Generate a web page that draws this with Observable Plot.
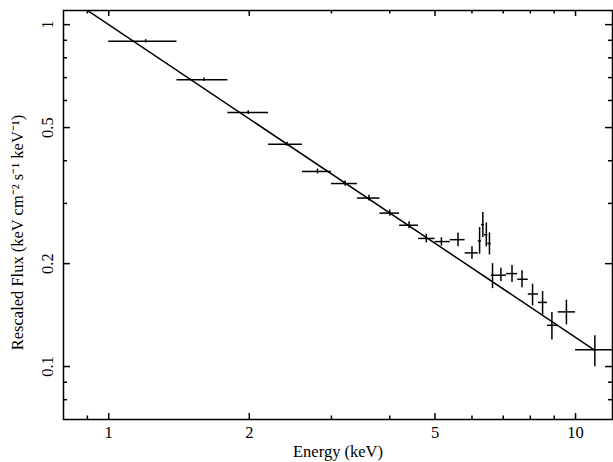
<!DOCTYPE html>
<html>
<head>
<meta charset="utf-8">
<script src="https://cdn.jsdelivr.net/npm/d3@7"></script>
<script src="https://cdn.jsdelivr.net/npm/@observablehq/plot@0.6"></script>
<style>
  html, body { margin: 0; padding: 0; background: #fff; }
  #chart svg { display: block; }
</style>
</head>
<body>
<div id="chart"></div>
<script>
// Energy bins (keV)
const eLo  = [1.00,1.40,1.80,2.20,2.60,3.00,3.41,3.81,4.20,4.61,5.00,5.39,5.80,6.19,6.29,6.38,6.49,6.60,6.77,7.11,7.52,7.92,8.33,8.71,9.18,10.0];
const eMid = [1.20,1.60,1.99,2.41,2.80,3.21,3.61,4.00,4.40,4.79,5.16,5.60,6.00,6.23,6.33,6.44,6.54,6.64,6.92,7.31,7.68,8.09,8.50,8.90,9.56,11.0];
const eHi  = [1.40,1.80,2.20,2.60,3.00,3.41,3.81,4.20,4.61,5.00,5.39,5.80,6.19,6.29,6.38,6.49,6.60,6.77,7.11,7.52,7.92,8.33,8.71,9.18,10.0,12.0];
// Rescaled flux and its error range
const flux = [0.894,0.690,0.553,0.447,0.372,0.343,0.311,0.281,0.259,0.237,0.232,0.235,0.215,0.233,0.260,0.243,0.229,0.185,0.185,0.187,0.180,0.163,0.154,0.132,0.1445,0.112];
const fLo  = [0.884,0.682,0.546,0.441,0.366,0.337,0.305,0.275,0.253,0.230,0.225,0.224,0.206,0.213,0.2385,0.224,0.212,0.169,0.1774,0.1762,0.170,0.1505,0.1416,0.1195,0.1324,0.0998];
const fHi  = [0.904,0.698,0.560,0.453,0.378,0.349,0.317,0.287,0.265,0.244,0.238,0.246,0.224,0.255,0.282,0.263,0.246,0.200,0.1937,0.1976,0.1905,0.1741,0.1657,0.1438,0.1564,0.123];
// Power-law model line
const modelE = [0.85, 11.0];
const modelF = [1.160, 0.1115];
// Ticks
const xMajor = [1, 2, 5, 10];
const xMinor = [0.9, 3, 4, 6, 7, 8, 9];
const yMajor = [0.1, 0.2, 0.5, 1];
const yMinor = [0.08, 0.09, 0.3, 0.4, 0.6, 0.7, 0.8, 0.9];
const xLabel = "Energy (keV)";
const yLabel = "Rescaled Flux (keV cm\u207B\u00B2 s\u207B\u00B9 keV\u207B\u00B9)";

const data = eMid.map((e, i) => ({e, lo: eLo[i], hi: eHi[i], f: flux[i], flo: fLo[i], fhi: fHi[i]}));
const model = modelE.map((e, i) => ({e, f: modelF[i]}));

const W = 613, H = 462;
const mL = 63, mR = 1, mT = 10, mB = 43;
const fw = W - mL - mR, fh = H - mT - mB;
const font = "Liberation Serif, Times New Roman, serif";
const fs = 16.5;
const sw = 1.5;

const plot = Plot.plot({
  width: W, height: H,
  marginLeft: mL, marginRight: mR, marginTop: mT, marginBottom: mB,
  style: {background: "#fff", fontFamily: font, fontSize: fs + "px", color: "#000"},
  x: {type: "log", domain: [0.8, 12], axis: null},
  y: {type: "log", domain: [0.07, 1.1], axis: null},
  marks: [
    // data error bars
    Plot.ruleY(data, {y: "f", x1: "lo", x2: "hi", stroke: "#000", strokeWidth: sw}),
    Plot.ruleX(data, {x: "e", y1: "flo", y2: "fhi", stroke: "#000", strokeWidth: sw}),
    // model
    Plot.line(model, {x: "e", y: "f", stroke: "#000", strokeWidth: sw, clip: true}),
    // ticks bottom/top
    Plot.ruleX(xMajor, {x: d => d, insetTop: fh - 6, stroke: "#000", strokeWidth: sw}),
    Plot.ruleX(xMajor, {x: d => d, insetBottom: fh - 6, stroke: "#000", strokeWidth: sw}),
    Plot.ruleX(xMinor, {x: d => d, insetTop: fh - 3.5, stroke: "#000", strokeWidth: sw}),
    Plot.ruleX(xMinor, {x: d => d, insetBottom: fh - 3.5, stroke: "#000", strokeWidth: sw}),
    // ticks left/right
    Plot.ruleY(yMajor, {y: d => d, insetRight: fw - 7, stroke: "#000", strokeWidth: sw}),
    Plot.ruleY(yMajor, {y: d => d, insetLeft: fw - 7, stroke: "#000", strokeWidth: sw}),
    Plot.ruleY(yMinor, {y: d => d, insetRight: fw - 4, stroke: "#000", strokeWidth: sw}),
    Plot.ruleY(yMinor, {y: d => d, insetLeft: fw - 4, stroke: "#000", strokeWidth: sw}),
    Plot.frame({stroke: "#000", strokeWidth: sw}),
    // tick labels
    Plot.text(xMajor, {x: d => d, text: d => String(d), frameAnchor: "bottom", dy: 18.5, lineAnchor: "bottom", fill: "#000", fontSize: fs}),
    Plot.text(yMajor, {y: d => d, text: d => String(d), frameAnchor: "left", dx: -10.5, rotate: -90, lineAnchor: "bottom", textAnchor: "middle", fill: "#000", fontSize: fs}),
    // axis labels
    Plot.text([xLabel], {text: d => d, frameAnchor: "bottom", dx: 0, dy: 37, lineAnchor: "bottom", fill: "#000", fontSize: fs}),
    Plot.text([yLabel], {text: d => d, frameAnchor: "left", dx: -41, dy: 17.5, rotate: -90, lineAnchor: "bottom", textAnchor: "middle", fill: "#000", fontSize: fs})
  ]
});
document.getElementById("chart").appendChild(plot);
</script>
</body>
</html>
